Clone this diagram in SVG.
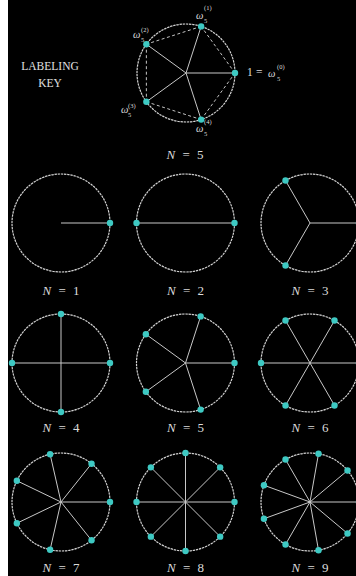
<svg xmlns="http://www.w3.org/2000/svg" width="356" height="576" viewBox="0 0 356 576">
<style>
.circ{fill:none;stroke:#d2d2d2;stroke-width:1.2;stroke-dasharray:2.4 0.8}
.spoke{stroke:#c8c8c8;stroke-width:1}
.edge{stroke:#c4c4c4;stroke-width:1;stroke-dasharray:3 2.5}
.dot{fill:#3ec9c3}
.lbl{font-family:"Liberation Serif","DejaVu Serif",serif;font-size:13px;fill:#dcdcdc;word-spacing:4px}
.key{font-family:"Liberation Serif","DejaVu Serif",serif;font-size:11.5px;fill:#e0e0e0}
.w{font-family:"Liberation Serif","DejaVu Serif",serif;font-size:10.5px;fill:#dcdcdc;font-style:italic}
.s{font-size:6.5px;font-style:normal}
</style>
<rect x="0" y="0" width="356" height="576" fill="#ffffff"/>
<rect x="8" y="0" width="348" height="576" fill="#000000"/>

<g id="key">
  <text class="key" x="50" y="70" text-anchor="middle">LABELING</text>
  <text class="key" x="50" y="87" text-anchor="middle">KEY</text>
  <g transform="translate(186,73)">
    <circle class="circ" r="49"/>
    <g class="edges">
      <line class="edge" x1="49" y1="0" x2="15.14" y2="-46.6"/>
      <line class="edge" x1="15.14" y1="-46.6" x2="-39.64" y2="-28.8"/>
      <line class="edge" x1="-39.64" y1="-28.8" x2="-39.64" y2="28.8"/>
      <line class="edge" x1="-39.64" y1="28.8" x2="15.14" y2="46.6"/>
      <line class="edge" x1="15.14" y1="46.6" x2="49" y2="0"/>
    </g>
    <line class="spoke" x1="0" y1="0" x2="49" y2="0"/>
    <line class="spoke" x1="0" y1="0" x2="15.14" y2="-46.6"/>
    <line class="spoke" x1="0" y1="0" x2="-39.64" y2="-28.8"/>
    <line class="spoke" x1="0" y1="0" x2="-39.64" y2="28.8"/>
    <line class="spoke" x1="0" y1="0" x2="15.14" y2="46.6"/>
    <circle class="dot" cx="49" cy="0" r="3.2"/>
    <circle class="dot" cx="15.14" cy="-46.6" r="3.2"/>
    <circle class="dot" cx="-39.64" cy="-28.8" r="3.2"/>
    <circle class="dot" cx="-39.64" cy="28.8" r="3.2"/>
    <circle class="dot" cx="15.14" cy="46.6" r="3.2"/>
  </g>
  <text class="w"><tspan x="196" y="19">ω</tspan><tspan class="s" x="204" y="23">5</tspan><tspan class="s" x="204" y="10">(1)</tspan></text>
  <text class="w"><tspan x="133" y="38">ω</tspan><tspan class="s" x="141" y="42">5</tspan><tspan class="s" x="141" y="32">(2)</tspan></text>
  <text class="w"><tspan x="121" y="113">ω</tspan><tspan class="s" x="128" y="117">5</tspan><tspan class="s" x="128" y="108">(3)</tspan></text>
  <text class="w"><tspan x="196" y="132">ω</tspan><tspan class="s" x="204" y="136">5</tspan><tspan class="s" x="204" y="124">(4)</tspan></text>
  <text class="w"><tspan style="font-style:normal;font-size:11.5px" x="247" y="76">1</tspan><tspan style="font-style:normal;font-size:11.5px" x="256" y="76">=</tspan><tspan x="268" y="77">ω</tspan><tspan class="s" x="277" y="81">5</tspan><tspan class="s" x="277" y="69">(0)</tspan></text>
  <text class="lbl" x="185" y="159" text-anchor="middle"><tspan font-style="italic">N</tspan> = 5</text>
</g>

<g id="n1" transform="translate(61,223)">
  <circle class="circ" r="49"/>
  <line class="spoke" x1="0" y1="0" x2="49" y2="0"/>
  <circle class="dot" cx="49" cy="0" r="3.2"/>
  <text class="lbl" x="0" y="72" text-anchor="middle"><tspan font-style="italic">N</tspan> = 1</text>
</g>

<g id="n2" transform="translate(185.5,223)">
  <circle class="circ" r="49"/>
  <line class="spoke" x1="-49" y1="0" x2="49" y2="0"/>
  <circle class="dot" cx="49" cy="0" r="3.2"/>
  <circle class="dot" cx="-49" cy="0" r="3.2"/>
  <text class="lbl" x="0" y="72" text-anchor="middle"><tspan font-style="italic">N</tspan> = 2</text>
</g>

<g id="n3" transform="translate(310,223)">
  <circle class="circ" r="49"/>
  <line class="spoke" x1="0" y1="0" x2="49" y2="0"/>
  <line class="spoke" x1="0" y1="0" x2="-24.5" y2="-42.44"/>
  <line class="spoke" x1="0" y1="0" x2="-24.5" y2="42.44"/>
  <circle class="dot" cx="49" cy="0" r="3.2"/>
  <circle class="dot" cx="-24.5" cy="-42.44" r="3.2"/>
  <circle class="dot" cx="-24.5" cy="42.44" r="3.2"/>
  <text class="lbl" x="0" y="72" text-anchor="middle"><tspan font-style="italic">N</tspan> = 3</text>
</g>

<g id="n4" transform="translate(61,363)">
  <circle class="circ" r="49"/>
  <line class="spoke" x1="-49" y1="0" x2="49" y2="0"/>
  <line class="spoke" x1="0" y1="-49" x2="0" y2="49"/>
  <circle class="dot" cx="49" cy="0" r="3.2"/>
  <circle class="dot" cx="0" cy="-49" r="3.2"/>
  <circle class="dot" cx="-49" cy="0" r="3.2"/>
  <circle class="dot" cx="0" cy="49" r="3.2"/>
  <text class="lbl" x="0" y="69" text-anchor="middle"><tspan font-style="italic">N</tspan> = 4</text>
</g>

<g id="n5" transform="translate(185.5,363)">
  <circle class="circ" r="49"/>
  <line class="spoke" x1="0" y1="0" x2="49" y2="0"/>
  <line class="spoke" x1="0" y1="0" x2="15.14" y2="-46.6"/>
  <line class="spoke" x1="0" y1="0" x2="-39.64" y2="-28.8"/>
  <line class="spoke" x1="0" y1="0" x2="-39.64" y2="28.8"/>
  <line class="spoke" x1="0" y1="0" x2="15.14" y2="46.6"/>
  <circle class="dot" cx="49" cy="0" r="3.2"/>
  <circle class="dot" cx="15.14" cy="-46.6" r="3.2"/>
  <circle class="dot" cx="-39.64" cy="-28.8" r="3.2"/>
  <circle class="dot" cx="-39.64" cy="28.8" r="3.2"/>
  <circle class="dot" cx="15.14" cy="46.6" r="3.2"/>
  <text class="lbl" x="0" y="69" text-anchor="middle"><tspan font-style="italic">N</tspan> = 5</text>
</g>

<g id="n6" transform="translate(310,363)">
  <circle class="circ" r="49"/>
  <line class="spoke" x1="-49" y1="0" x2="49" y2="0"/>
  <line class="spoke" x1="-24.5" y1="-42.44" x2="24.5" y2="42.44"/>
  <line class="spoke" x1="24.5" y1="-42.44" x2="-24.5" y2="42.44"/>
  <circle class="dot" cx="49" cy="0" r="3.2"/>
  <circle class="dot" cx="-49" cy="0" r="3.2"/>
  <circle class="dot" cx="24.5" cy="-42.44" r="3.2"/>
  <circle class="dot" cx="-24.5" cy="-42.44" r="3.2"/>
  <circle class="dot" cx="24.5" cy="42.44" r="3.2"/>
  <circle class="dot" cx="-24.5" cy="42.44" r="3.2"/>
  <text class="lbl" x="0" y="69" text-anchor="middle"><tspan font-style="italic">N</tspan> = 6</text>
</g>

<g id="n7" transform="translate(61,502)">
  <circle class="circ" r="49"/>
  <line class="spoke" x1="0" y1="0" x2="49" y2="0"/>
  <line class="spoke" x1="0" y1="0" x2="30.55" y2="-38.31"/>
  <line class="spoke" x1="0" y1="0" x2="-10.9" y2="-47.77"/>
  <line class="spoke" x1="0" y1="0" x2="-44.15" y2="-21.26"/>
  <line class="spoke" x1="0" y1="0" x2="-44.15" y2="21.26"/>
  <line class="spoke" x1="0" y1="0" x2="-10.9" y2="47.77"/>
  <line class="spoke" x1="0" y1="0" x2="30.55" y2="38.31"/>
  <circle class="dot" cx="49" cy="0" r="3.2"/>
  <circle class="dot" cx="30.55" cy="-38.31" r="3.2"/>
  <circle class="dot" cx="-10.9" cy="-47.77" r="3.2"/>
  <circle class="dot" cx="-44.15" cy="-21.26" r="3.2"/>
  <circle class="dot" cx="-44.15" cy="21.26" r="3.2"/>
  <circle class="dot" cx="-10.9" cy="47.77" r="3.2"/>
  <circle class="dot" cx="30.55" cy="38.31" r="3.2"/>
  <text class="lbl" x="0" y="70" text-anchor="middle"><tspan font-style="italic">N</tspan> = 7</text>
</g>

<g id="n8" transform="translate(185.5,502)">
  <circle class="circ" r="49"/>
  <line class="spoke" x1="-49" y1="0" x2="49" y2="0"/>
  <line class="spoke" x1="0" y1="-49" x2="0" y2="49"/>
  <line class="spoke" x1="-34.65" y1="-34.65" x2="34.65" y2="34.65"/>
  <line class="spoke" x1="34.65" y1="-34.65" x2="-34.65" y2="34.65"/>
  <circle class="dot" cx="49" cy="0" r="3.2"/>
  <circle class="dot" cx="-49" cy="0" r="3.2"/>
  <circle class="dot" cx="0" cy="-49" r="3.2"/>
  <circle class="dot" cx="0" cy="49" r="3.2"/>
  <circle class="dot" cx="34.65" cy="-34.65" r="3.2"/>
  <circle class="dot" cx="-34.65" cy="-34.65" r="3.2"/>
  <circle class="dot" cx="34.65" cy="34.65" r="3.2"/>
  <circle class="dot" cx="-34.65" cy="34.65" r="3.2"/>
  <text class="lbl" x="0" y="70" text-anchor="middle"><tspan font-style="italic">N</tspan> = 8</text>
</g>

<g id="n9" transform="translate(310,502)">
  <circle class="circ" r="49"/>
  <line class="spoke" x1="0" y1="0" x2="49" y2="0"/>
  <line class="spoke" x1="0" y1="0" x2="37.54" y2="-31.5"/>
  <line class="spoke" x1="0" y1="0" x2="8.51" y2="-48.26"/>
  <line class="spoke" x1="0" y1="0" x2="-24.5" y2="-42.44"/>
  <line class="spoke" x1="0" y1="0" x2="-46.05" y2="-16.76"/>
  <line class="spoke" x1="0" y1="0" x2="-46.05" y2="16.76"/>
  <line class="spoke" x1="0" y1="0" x2="-24.5" y2="42.44"/>
  <line class="spoke" x1="0" y1="0" x2="8.51" y2="48.26"/>
  <line class="spoke" x1="0" y1="0" x2="37.54" y2="31.5"/>
  <circle class="dot" cx="49" cy="0" r="3.2"/>
  <circle class="dot" cx="37.54" cy="-31.5" r="3.2"/>
  <circle class="dot" cx="8.51" cy="-48.26" r="3.2"/>
  <circle class="dot" cx="-24.5" cy="-42.44" r="3.2"/>
  <circle class="dot" cx="-46.05" cy="-16.76" r="3.2"/>
  <circle class="dot" cx="-46.05" cy="16.76" r="3.2"/>
  <circle class="dot" cx="-24.5" cy="42.44" r="3.2"/>
  <circle class="dot" cx="8.51" cy="48.26" r="3.2"/>
  <circle class="dot" cx="37.54" cy="31.5" r="3.2"/>
  <text class="lbl" x="0" y="70" text-anchor="middle"><tspan font-style="italic">N</tspan> = 9</text>
</g>
</svg>
